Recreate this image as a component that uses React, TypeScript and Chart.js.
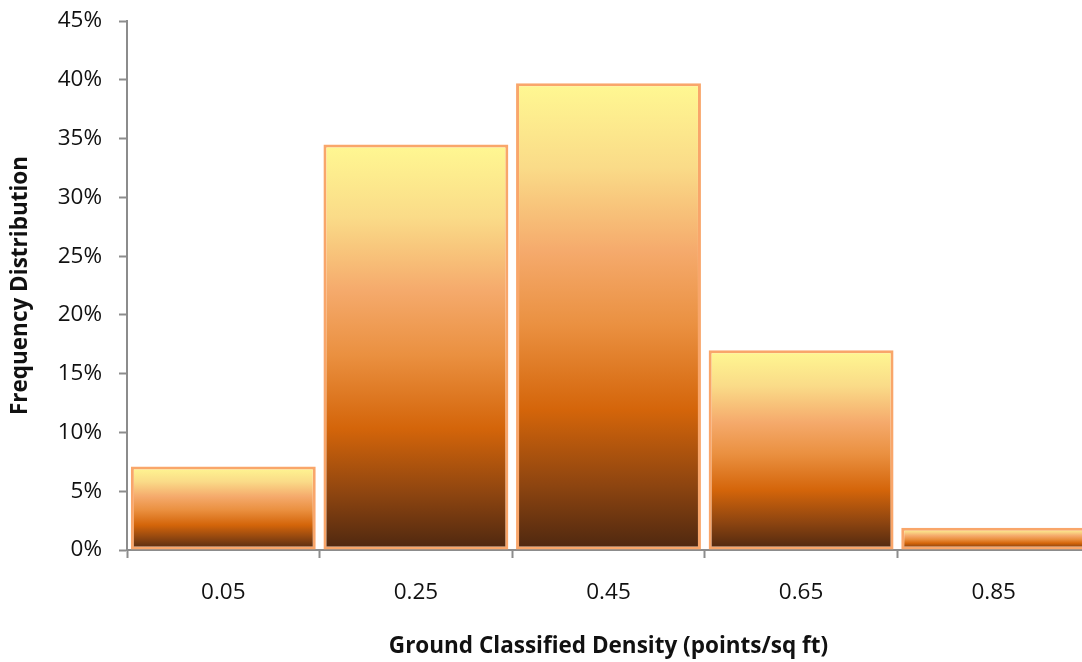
import React, { useEffect, useRef } from "react";
import { Chart, registerables } from "chart.js";

Chart.register(...registerables);

const categories = ["0.05", "0.25", "0.45", "0.65", "0.85"];
const frequency = [7.1, 34.5, 39.7, 17.0, 1.9];
const yTicks = [0, 5, 10, 15, 20, 25, 30, 35, 40, 45];
const xTitle = "Ground Classified Density (points/sq ft)";
const yTitle = "Frequency Distribution";

const gradientStops: [number, string][] = [
  [0, "#FFF892"],
  [0.18, "#FADB88"],
  [0.36, "#F5AA6C"],
  [0.52, "#EA9040"],
  [0.7, "#D4650A"],
  [0.86, "#8E4510"],
  [1, "#4D2710"],
];

export default function App() {
  const ref = useRef<HTMLCanvasElement | null>(null);
  useEffect(() => {
    const canvas = ref.current!;
    const font = "Open Sans";
    const chart = new Chart(canvas, {
      type: "bar",
      data: {
        labels: categories,
        datasets: [
          {
            data: frequency,
            backgroundColor: (ctx: any) => {
              const c = ctx.chart;
              const ys = c.scales && c.scales.y;
              if (!c.chartArea || !ys || ctx.dataIndex == null) return "#E08030";
              const v = frequency[ctx.dataIndex];
              const top = ys.getPixelForValue(v);
              const bottom = ys.getPixelForValue(0);
              const g = c.ctx.createLinearGradient(0, top, 0, bottom);
              gradientStops.forEach(([o, col]) => g.addColorStop(o, col));
              return g;
            },
            borderColor: "#F9A66A",
            borderWidth: 3,
            borderSkipped: false,
            categoryPercentage: 1,
            barPercentage: 0.96,
          },
        ],
      },
      options: {
        responsive: false,
        animation: false,
        devicePixelRatio: 1,
        layout: { padding: { top: 21, right: 10, bottom: 0, left: 0 } },
        plugins: { legend: { display: false }, tooltip: { enabled: false } },
        scales: {
          x: {
            type: "category",
            offset: true,
            grid: {
              offset: true,
              display: true,
              drawOnChartArea: false,
              drawTicks: true,
              tickLength: 8,
              tickWidth: 2,
              tickColor: "#8C8C8C",
            },
            border: { display: true, color: "#8C8C8C", width: 2 },
            ticks: {
              color: "#111",
              font: { family: font, size: 22.5 },
              padding: 21,
              maxRotation: 0,
            },
            title: {
              display: true,
              text: xTitle,
              color: "#111",
              font: { family: font, size: 22.5, weight: "bold" },
              padding: { top: 0, bottom: 2 },
            },
            afterFit: (s: any) => {
              s.height = 112;
              s.paddingLeft = 0;
              s.paddingRight = 0;
            },
          },
          y: {
            min: 0,
            max: 45,
            afterBuildTicks: (s: any) => {
              s.ticks = yTicks.map((v) => ({ value: v }));
            },
            grid: {
              display: true,
              drawOnChartArea: false,
              drawTicks: true,
              tickLength: 8,
              tickWidth: 2,
              tickColor: "#8C8C8C",
            },
            border: { display: true, color: "#8C8C8C", width: 2 },
            ticks: {
              color: "#111",
              font: { family: font, size: 22.5 },
              padding: 17,
              callback: (v: any) => v + "%",
            },
            title: {
              display: true,
              text: yTitle,
              color: "#111",
              font: { family: font, size: 22.5, weight: "bold" },
              padding: { top: 7, bottom: 0 },
            },
            afterFit: (s: any) => {
              s.width = 127;
              s.paddingTop = 0;
              s.paddingBottom = 0;
            },
          },
        },
      },
    });
    return () => chart.destroy();
  }, []);
  return (
    <div
      style={{
        position: "absolute",
        left: 0,
        top: 0,
        width: 1082,
        height: 662,
        overflow: "hidden",
        background: "#fff",
      }}
    >
      <canvas ref={ref} width={1100} height={662} style={{ display: "block" }} />
    </div>
  );
}
